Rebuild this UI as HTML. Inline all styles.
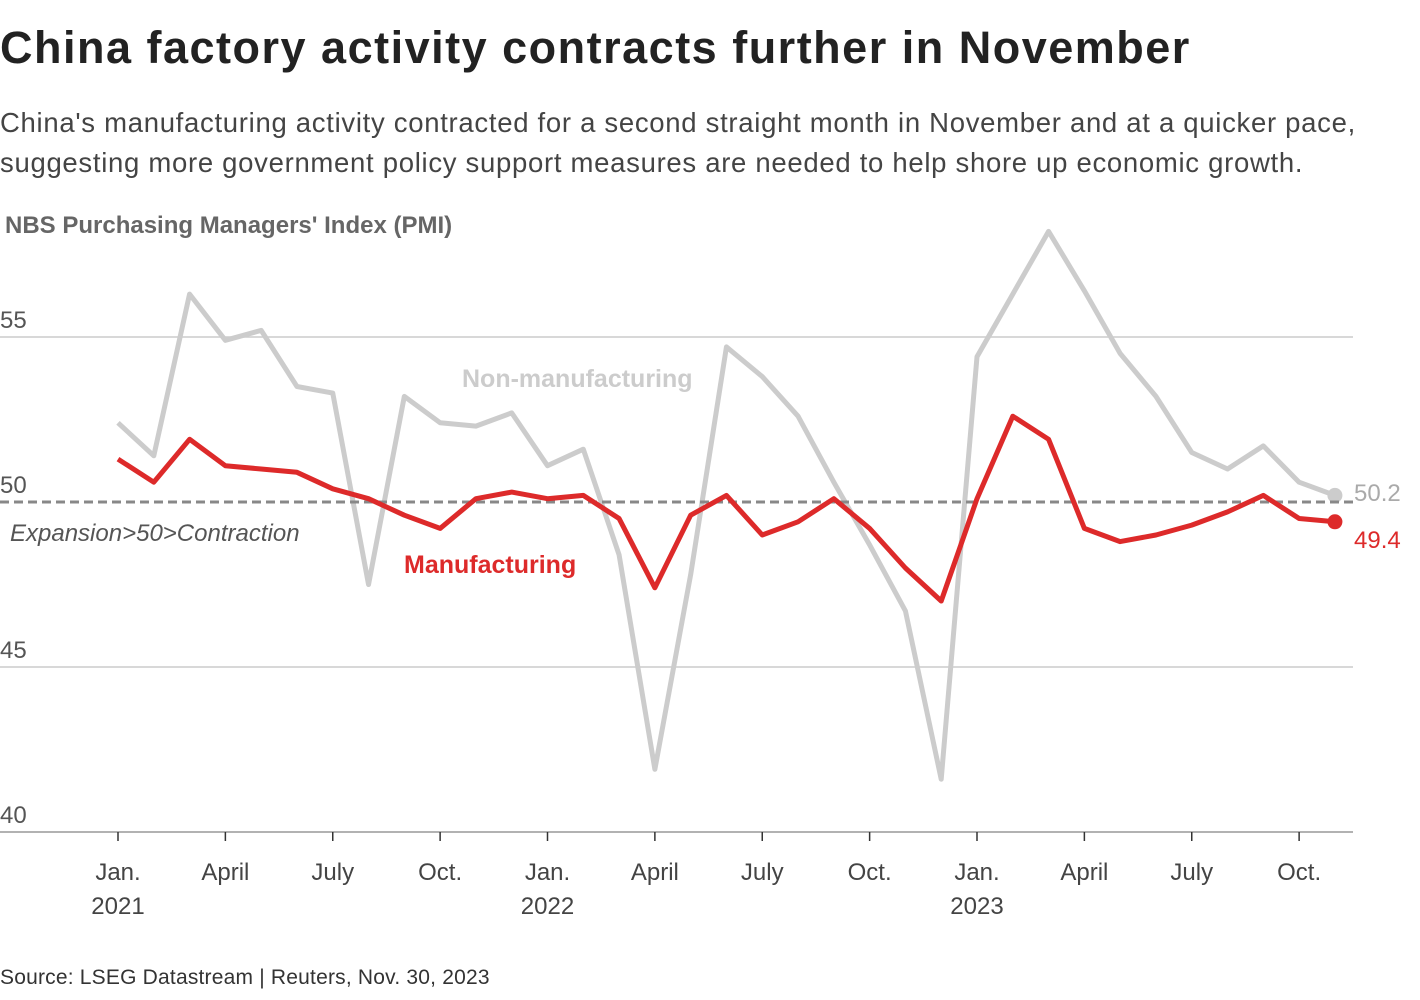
<!DOCTYPE html>
<html><head><meta charset="utf-8">
<style>
body{margin:0;background:#fff;width:1420px;height:1000px;overflow:hidden;font-family:"Liberation Sans",sans-serif}
#title{position:absolute;left:0;top:22px;font-size:45px;font-weight:bold;color:#222;letter-spacing:1.5px}
#sub{position:absolute;left:0;top:103px;font-size:27.5px;color:#444;line-height:40px;letter-spacing:0.7px}
#src{position:absolute;left:0;top:966px;font-size:21px;color:#333;letter-spacing:0.2px}
svg{position:absolute;left:0;top:0}
</style></head><body>
<div id="title">China factory activity contracts further in November</div>
<div id="sub">China's manufacturing activity contracted for a second straight month in November and at a quicker pace,<br>suggesting more government policy support measures are needed to help shore up economic growth.</div>
<div id="src">Source: LSEG Datastream | Reuters, Nov. 30, 2023</div>
<svg id="chart" width="1420" height="1000"></svg>
<script>
const manufacturing=[51.3,50.6,51.9,51.1,51.0,50.9,50.4,50.1,49.6,49.2,50.1,50.3,50.1,50.2,49.5,47.4,49.6,50.2,49.0,49.4,50.1,49.2,48.0,47.0,50.1,52.6,51.9,49.2,48.8,49.0,49.3,49.7,50.2,49.5,49.4];
const nonManufacturing=[52.4,51.4,56.3,54.9,55.2,53.5,53.3,47.5,53.2,52.4,52.3,52.7,51.1,51.6,48.4,41.9,47.8,54.7,53.8,52.6,50.6,48.7,46.7,41.6,54.4,56.3,58.2,56.4,54.5,53.2,51.5,51.0,51.7,50.6,50.2];
const yTicks=[40,45,50,55];
const xTickIdx=[0,3,6,9,12,15,18,21,24,27,30,33];
const xTickLabels=["Jan.|2021","April","July","Oct.","Jan.|2022","April","July","Oct.","Jan.|2023","April","July","Oct."];
const svg=document.getElementById('chart');
const NS='http://www.w3.org/2000/svg';
const x=i=>118+i*(977-118)/24;
const y=v=>502-(v-50)*(502-337)/5;
function el(t,a,txt){const e=document.createElementNS(NS,t);for(const k in a)e.setAttribute(k,a[k]);if(txt!=null)e.textContent=txt;svg.appendChild(e);return e;}
const yl=el('text',{x:5,y:233,'font-size':24,'font-weight':'bold',fill:'#666'},"NBS Purchasing Managers' Index (PMI)");


yTicks.forEach(v=>{
 if(v!==50&&v!==40){const g=el('line',{x1:0,x2:1353,y1:y(v),y2:y(v),stroke:'#ccc','stroke-width':1.5});
 
 }
 const t=el('text',{x:0,y:y(v)-9,'font-size':24,fill:'#555'},v);
 
 
});
const ax=el('line',{x1:0,x2:1353,y1:y(40),y2:y(40),stroke:'#999','stroke-width':1.5});


xTickIdx.forEach((i,k)=>{
 const tk=el('line',{x1:x(i),x2:x(i),y1:y(40),y2:y(40)+9,stroke:'#333','stroke-width':1.5});
 
 
 xTickLabels[k].split('|').forEach((s,j)=>{
  const t=el('text',{x:x(i),y:880+j*34,'font-size':24,fill:'#444','text-anchor':'middle'},s);
  
  
 });
});
function line(data,color,name){
 const p=el('polyline',{points:data.map((v,i)=>x(i)+','+y(v)).join(' '),fill:'none',stroke:color,'stroke-width':5,'stroke-linejoin':'round'});
 
 
 const n=data.length-1;
 const c=el('circle',{cx:x(n),cy:y(data[n]),r:7.5,fill:color});
 
 
}
line(nonManufacturing,'#cccccc','non-manufacturing-line');
const d=el('line',{x1:0,x2:1353,y1:y(50),y2:y(50),stroke:'#888','stroke-width':3,'stroke-dasharray':'9,5'});


line(manufacturing,'#dd2a2a','manufacturing-line');
const lbls=[[10,541,'Expansion>50>Contraction','#555',24,'normal','italic','threshold-label'],
[462,387,'Non-manufacturing','#ccc',25,'bold','normal','non-manufacturing-label'],
[404,573,'Manufacturing','#dd2a2a',25,'bold','normal','manufacturing-label'],
[1354,501,nonManufacturing[34].toFixed(1),'#aaa',24,'normal','normal','non-manufacturing-value'],
[1354,548,manufacturing[34].toFixed(1),'#dd2a2a',24,'normal','normal','manufacturing-value']];
lbls.forEach(a=>{const t=el('text',{x:a[0],y:a[1],fill:a[3],'font-size':a[4],'font-weight':a[5],'font-style':a[6]},a[2]);
 
 });
</script>
</body></html>
